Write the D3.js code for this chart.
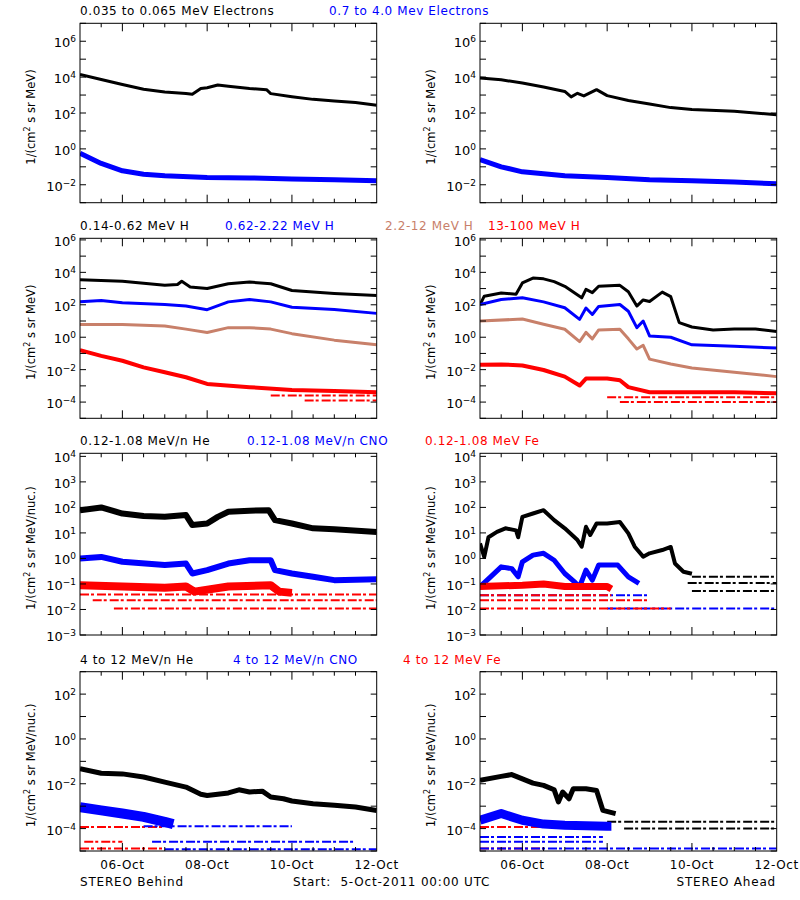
<!DOCTYPE html>
<html><head><meta charset="utf-8">
<script src="https://cdn.jsdelivr.net/npm/d3@7"></script>
<style>
body{margin:0;background:#fff;}
text{font-family:"DejaVu Sans",sans-serif;}
</style></head>
<body><div id="chart"></div>
<script>
// time in days after 5-Oct-2011 00:00, values are log10 of flux
var xTickLabels = ["06-Oct","08-Oct","10-Oct","12-Oct"];
var xTickDays = [1,3,5,7];

// panel 1 : electrons
var beEleLow = [[0,4.15],[0.5,3.87],[1,3.59],[1.5,3.32],[2,3.17],[2.5,3.09],[2.65,3.04],[2.85,3.36],[3,3.41],[3.25,3.56],[3.5,3.49],[4,3.37],[4.4,3.3],[4.5,3.08],[5,2.91],[5.5,2.76],[6,2.67],[6.5,2.58],[7,2.43]];
var beEleHigh = [[0,-0.24],[0.5,-0.81],[1,-1.22],[1.5,-1.41],[2,-1.5],[3,-1.59],[4,-1.62],[5,-1.68],[6,-1.72],[7,-1.78]];
var ahEleLow = [[0,3.95],[0.5,3.85],[1,3.67],[1.5,3.45],[2,3.2],[2.15,2.9],[2.3,3.1],[2.45,2.95],[2.75,3.3],[3,2.97],[3.5,2.7],[4,2.5],[4.5,2.3],[5,2.2],[6,2.1],[7,1.9]];
var ahEleHigh = [[0,-0.6],[0.5,-1.0],[1,-1.28],[2,-1.5],[3,-1.6],[4,-1.72],[5,-1.78],[6,-1.85],[7,-1.95]];

// panel 2 : protons
var beH1 = [[0,3.55],[1,3.45],[2,3.2],[2.3,3.25],[2.4,3.45],[2.6,3.1],[3,3.0],[3.5,3.3],[4,3.4],[4.5,3.3],[5,2.88],[6,2.7],[7,2.57]];
var beH2 = [[0,2.18],[0.5,2.26],[1,2.12],[2,2.02],[2.5,1.92],[3,1.7],[3.5,2.18],[4,2.33],[4.5,2.18],[5,1.85],[6,1.71],[7,1.47]];
var beH3 = [[0,0.79],[1,0.79],[2,0.69],[2.5,0.5],[3,0.29],[3.5,0.59],[4,0.59],[4.5,0.5],[5,0.22],[6,-0.18],[7,-0.47]];
var beH4 = [[0,-0.8],[0.5,-1.15],[1,-1.45],[1.5,-1.86],[2,-2.16],[2.5,-2.47],[3,-2.88],[4,-3.08],[5,-3.25],[6,-3.32],[7,-3.39]];
var ahH1 = [[0,2.0],[0.1,2.53],[0.5,2.73],[0.85,2.65],[1,3.35],[1.25,3.65],[1.5,3.6],[1.75,3.43],[2,3.14],[2.4,2.43],[2.5,2.95],[2.65,2.75],[2.8,3.14],[3.3,3.2],[3.5,2.8],[3.7,1.92],[3.85,2.3],[4,2.2],[4.3,2.78],[4.5,2.5],[4.7,0.9],[5,0.63],[5.5,0.45],[6,0.5],[6.5,0.5],[7,0.35]];
var ahH2 = [[0,2.02],[0.5,2.33],[1,2.43],[1.5,2.18],[2,1.82],[2.35,1.1],[2.5,1.8],[2.65,1.4],[2.8,1.9],[3.3,2.02],[3.5,1.6],[3.7,0.59],[3.85,1.0],[4,0.08],[4.5,0.0],[5,-0.47],[6,-0.55],[7,-0.67]];
var ahH3 = [[0,1.0],[1,1.12],[1.5,0.8],[2,0.49],[2.35,-0.27],[2.5,0.3],[2.65,-0.1],[2.8,0.45],[3.3,0.49],[3.5,-0.1],[3.7,-0.73],[3.85,-0.5],[4,-1.35],[4.5,-1.65],[5,-1.9],[6,-2.16],[7,-2.43]];
var ahH4 = [[0,-1.7],[0.5,-1.68],[1,-1.74],[1.5,-2.02],[2,-2.43],[2.35,-2.98],[2.5,-2.55],[3,-2.55],[3.3,-2.65],[3.5,-3.08],[4,-3.39],[5,-3.4],[6,-3.4],[7,-3.45]];

// panel 3 : low energy heavy ions
var beHeLow = [[0,1.89],[0.5,2.0],[1,1.76],[1.5,1.66],[2,1.63],[2.5,1.7],[2.65,1.31],[3,1.37],[3.25,1.63],[3.5,1.83],[4,1.87],[4.45,1.89],[4.6,1.5],[5,1.37],[5.5,1.18],[6,1.14],[7,1.04]];
var beCnoLow = [[0,0],[0.5,0.06],[1,-0.13],[2,-0.26],[2.5,-0.2],[2.65,-0.59],[3,-0.46],[3.5,-0.2],[4,-0.07],[4.5,-0.07],[4.6,-0.46],[5,-0.59],[5.5,-0.72],[6,-0.85],[7,-0.82]];
var beFeLow = [[0,-1.05],[1,-1.1],[2,-1.15],[2.5,-1.1],[2.7,-1.3],[3.5,-1.1],[4.5,-1.05],[4.7,-1.3],[5,-1.35]];
var ahHeLow = [[0,0.59],[0.1,0.06],[0.2,0.83],[0.4,1.04],[0.6,1.18],[0.85,1.1],[0.9,0.83],[1,1.63],[1.25,1.76],[1.5,1.89],[1.75,1.5],[2,1.18],[2.3,0.72],[2.4,0.46],[2.5,1.24],[2.6,0.92],[2.75,1.37],[3,1.37],[3.3,1.43],[3.5,0.98],[3.65,0.46],[3.85,0.07],[4,0.2],[4.3,0.33],[4.5,0.45],[4.6,-0.2],[4.8,-0.52],[5,-0.6]];
var ahCnoLow = [[0,-1.11],[0.25,-0.72],[0.5,-0.33],[0.75,-0.4],[0.9,-0.72],[1,-0.13],[1.25,0.13],[1.5,0.2],[1.75,-0.07],[2,-0.59],[2.25,-0.95],[2.35,-1.11],[2.5,-0.46],[2.65,-0.85],[2.8,-0.26],[3.25,-0.26],[3.5,-0.72],[3.75,-0.98]];
var ahFeLow = [[0,-1.1],[1,-1.05],[1.5,-1.0],[2,-1.1],[2.5,-1.1],[3,-1.1],[3.1,-1.2]];

// panel 4 : high energy heavy ions
var beHeHigh = [[0,-1.33],[0.5,-1.53],[1,-1.56],[1.5,-1.7],[2,-1.93],[2.5,-2.15],[2.85,-2.47],[3,-2.52],[3.5,-2.41],[3.75,-2.27],[4,-2.37],[4.3,-2.33],[4.5,-2.59],[4.8,-2.67],[5,-2.77],[5.5,-2.89],[6,-2.96],[6.5,-3.04],[7,-3.19]];
var beCnoHigh = [[0,-3.04],[0.5,-3.19],[1,-3.33],[1.5,-3.48],[2,-3.7],[2.2,-3.8]];
var ahHeHigh = [[0,-1.85],[0.5,-1.67],[0.75,-1.59],[1,-1.78],[1.25,-1.97],[1.5,-2.07],[1.75,-2.27],[1.85,-2.81],[1.95,-2.37],[2.1,-2.67],[2.2,-2.22],[2.5,-2.22],[2.75,-2.3],[2.9,-3.19],[3.2,-3.33]];
var ahCnoHigh = [[0,-3.63],[0.5,-3.33],[1,-3.63],[1.5,-3.8],[2,-3.85],[3,-3.9],[3.1,-3.9]];

// quantised count levels: [log10 value, start day, end day]
var beHLevels = [[-3.6,4.5,7],[-3.9,5.3,7]];
var ahHLevels = [[-3.7,3.0,7],[-4.0,3.3,7]];
var beFeLevels = [[-1.41,0,7],[-1.64,0.3,7],[-1.96,0.8,7]];
var ahHeLevels = [[-0.72,5,7],[-0.96,4.9,7],[-1.28,5,7]];
var ahCnoLevels = [[-1.44,0,4],[-1.96,3,7]];
var ahFeLevels = [[-1.44,0,3.1],[-1.64,0,4],[-1.96,0,4.5]];
var beCnoHighLevels = [[-3.9,1.5,5],[-4.59,1.7,6.5],[-4.92,2,7]];
var beFeHighLevels = [[-3.93,0,2],[-4.59,0.1,1],[-4.89,0,2]];
var ahHeHighLevels = [[-3.7,3,7],[-4.0,3.4,7]];
var ahCnoHighLevels = [[-4.37,0,2.9],[-4.59,0,2.9],[-4.89,0,7]];
var ahFeHighLevels = [[-3.93,0,1.5],[-4.89,0,1.5]];

var BLACK = "#000", BLUE = "#0000ff", TAN = "#c8806a", RED = "#ff0000";

var panels = [
  {row:0, dom:[-3,7], step:2, unit:"MeV",
   titles:[["0.035 to 0.065 MeV Electrons",BLACK,80],["0.7 to 4.0 Mev Electrons",BLUE,329]],
   cols:[
    {lines:[[beEleLow,BLACK,3],[beEleHigh,BLUE,5]], levels:[]},
    {lines:[[ahEleLow,BLACK,3],[ahEleHigh,BLUE,5]], levels:[]}]},
  {row:1, dom:[-5,6.1], step:2, unit:"MeV",
   titles:[["0.14-0.62 MeV H",BLACK,80],["0.62-2.22 MeV H",BLUE,225],["2.2-12 MeV H",TAN,385],["13-100 MeV H",RED,488]],
   cols:[
    {lines:[[beH1,BLACK,3],[beH2,BLUE,3],[beH3,TAN,3],[beH4,RED,4]], levels:[[beHLevels,RED]]},
    {lines:[[ahH1,BLACK,3],[ahH2,BLUE,3],[ahH3,TAN,3],[ahH4,RED,4]], levels:[[ahHLevels,RED]]}]},
  {row:2, dom:[-3,4.12], step:1, unit:"MeV/nuc.",
   titles:[["0.12-1.08 MeV/n He",BLACK,80],["0.12-1.08 MeV/n CNO",BLUE,247],["0.12-1.08 MeV Fe",RED,425]],
   cols:[
    {lines:[[beHeLow,BLACK,6],[beCnoLow,BLUE,6],[beFeLow,RED,8]], levels:[[beFeLevels,RED]]},
    {lines:[[ahHeLow,BLACK,4],[ahCnoLow,BLUE,5],[ahFeLow,RED,7]], levels:[[ahHeLevels,BLACK],[ahCnoLevels,BLUE],[ahFeLevels,RED]]}]},
  {row:3, dom:[-5,3], step:2, unit:"MeV/nuc.",
   titles:[["4 to 12 MeV/n He",BLACK,80],["4 to 12 MeV/n CNO",BLUE,233],["4 to 12 MeV Fe",RED,403]],
   cols:[
    {lines:[[beHeHigh,BLACK,5],[beCnoHigh,BLUE,10]], levels:[[beFeHighLevels,RED],[beCnoHighLevels,BLUE]]},
    {lines:[[ahHeHigh,BLACK,5],[ahCnoHigh,BLUE,9]], levels:[[ahFeHighLevels,RED],[ahCnoHighLevels,BLUE],[ahHeHighLevels,BLACK]]}]}
];

var rowY = [[23.3,202.7],[238.3,418.3],[453.3,635],[671.7,851]];
var colX = [[80,376.7],[480,776.7]];

var svg = d3.select("#chart").append("svg").attr("width",800).attr("height",900);

var x0 = new Date(2011,9,5), x1 = new Date(2011,9,12);
function dayDate(d){ return new Date(x0.getTime() + d*864e5); }

panels.forEach(function(p){
  var yr = rowY[p.row];
  p.titles.forEach(function(t){
    svg.append("text").attr("x",t[2]).attr("y",yr[0]-8).attr("fill",t[1])
      .attr("font-size",12).attr("letter-spacing",0.6).text(t[0]);
  });
  p.cols.forEach(function(c,ci){
    var xr = colX[ci];
    var x = d3.scaleTime().domain([x0,x1]).range(xr);
    var y = d3.scaleLog().domain([Math.pow(10,p.dom[0]),Math.pow(10,p.dom[1])]).range([yr[1],yr[0]]);
    var g = svg.append("g");
    var clipId = "clip"+p.row+ci;
    g.append("clipPath").attr("id",clipId).append("rect")
      .attr("x",xr[0]).attr("y",yr[0]).attr("width",xr[1]-xr[0]).attr("height",yr[1]-yr[0]);
    var plot = g.append("g").attr("clip-path","url(#"+clipId+")");

    c.levels.forEach(function(L){
      plot.selectAll(null).data(L[0]).enter().append("line")
        .attr("x1",function(d){return x(dayDate(d[1]));})
        .attr("x2",function(d){return x(dayDate(d[2]));})
        .attr("y1",function(d){return y(Math.pow(10,d[0]));})
        .attr("y2",function(d){return y(Math.pow(10,d[0]));})
        .attr("stroke",L[1]).attr("stroke-width",2).attr("stroke-dasharray","9,2,3,3");
    });
    var line = d3.line().x(function(d){return x(dayDate(d[0]));}).y(function(d){return y(Math.pow(10,d[1]));});
    c.lines.forEach(function(s){
      plot.append("path").attr("d",line(s[0])).attr("fill","none")
        .attr("stroke",s[1]).attr("stroke-width",s[2]).attr("stroke-linejoin","round");
    });

    // frame
    g.append("rect").attr("x",xr[0]).attr("y",yr[0]).attr("width",xr[1]-xr[0]).attr("height",yr[1]-yr[0])
      .attr("fill","none").attr("stroke","#000").attr("stroke-width",1);

    // y ticks every decade
    var decs = d3.range(Math.ceil(p.dom[0]), Math.floor(p.dom[1])+1);
    decs.forEach(function(e){
      var yy = y(Math.pow(10,e));
      g.append("line").attr("x1",xr[0]).attr("x2",xr[0]+6).attr("y1",yy).attr("y2",yy).attr("stroke","#000");
      g.append("line").attr("x1",xr[1]-6).attr("x2",xr[1]).attr("y1",yy).attr("y2",yy).attr("stroke","#000");
      if (e % p.step === 0 || p.step===1) {
        var t = g.append("text").attr("x",xr[0]-4).attr("y",yy+6).attr("text-anchor","end").attr("font-size",13);
        t.append("tspan").text("10");
        t.append("tspan").attr("dy",-5).attr("font-size",9).text(String(e).replace("-","\u2212"));
      }
    });
    // x ticks every 12 h
    d3.range(1,14).forEach(function(h){
      var xx = x(dayDate(h/2));
      var len = (h % 4 === 2) ? 8 : 4;
      g.append("line").attr("x1",xx).attr("x2",xx).attr("y1",yr[1]).attr("y2",yr[1]-len).attr("stroke","#000");
      g.append("line").attr("x1",xx).attr("x2",xx).attr("y1",yr[0]).attr("y2",yr[0]+len).attr("stroke","#000");
    });
    if (p.row === 3) {
      xTickDays.forEach(function(d,i){
        g.append("text").attr("x",x(dayDate(d))).attr("y",yr[1]+18).attr("text-anchor","middle")
          .attr("font-size",12).attr("letter-spacing",0.6).text(xTickLabels[i]);
      });
    }
    // y label
    var lab = g.append("text").attr("transform","translate("+(xr[0]-45)+","+((yr[0]+yr[1])/2+4)+") rotate(-90)")
      .attr("text-anchor","middle").attr("font-size",11.5);
    lab.append("tspan").text("1/(cm");
    lab.append("tspan").attr("dy",-5).attr("font-size",8).text("2");
    lab.append("tspan").attr("dy",5).text(" s sr "+p.unit+")");
  });
});

svg.append("text").attr("x",80).attr("y",886).attr("font-size",12).attr("letter-spacing",0.8).text("STEREO Behind");
svg.append("text").attr("x",293).attr("y",886).attr("font-size",12).attr("letter-spacing",0.8).attr("xml:space","preserve").text("Start:  5-Oct-2011 00:00 UTC");
svg.append("text").attr("x",776).attr("y",886).attr("text-anchor","end").attr("font-size",12).attr("letter-spacing",0.8).text("STEREO Ahead");
</script>
</body></html>
